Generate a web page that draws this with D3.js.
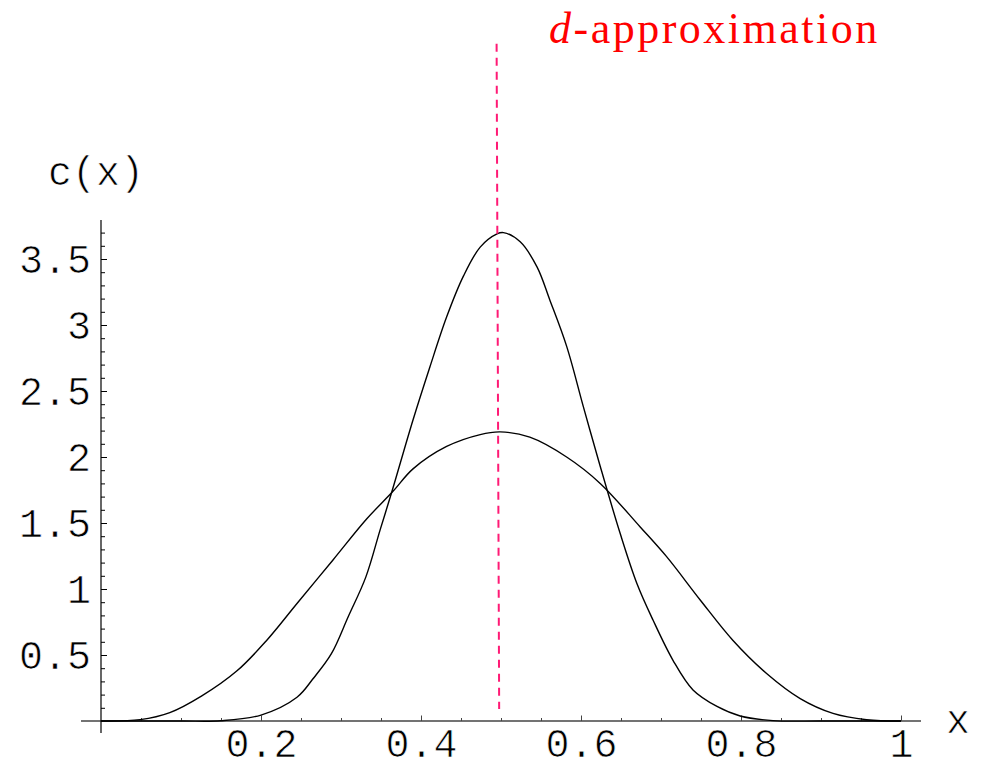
<!DOCTYPE html>
<html>
<head>
<meta charset="utf-8">
<script src="https://cdn.jsdelivr.net/npm/d3@7"></script>
<style>
  html, body { margin: 0; padding: 0; background: #fff; }
  svg { display: block; }
  .mono { font-family: "Courier New", "Liberation Mono", monospace; stroke: #fff; stroke-width: 0.7px; }
</style>
</head>
<body>
<div id="chart"></div>
<script>
"use strict";

// narrow curve (tall peak)
var narrowX = [0, 0.10, 0.15, 0.20, 0.245, 0.265, 0.288, 0.309, 0.331, 0.349, 0.363, 0.39, 0.411, 0.432, 0.453, 0.474, 0.495, 0.503, 0.524, 0.545, 0.561, 0.582, 0.603, 0.624, 0.649, 0.67, 0.69, 0.715, 0.74, 0.77, 0.799, 0.84, 0.9, 1.0];
var narrowY = [0, 0, 0.002, 0.045, 0.18, 0.32, 0.51, 0.79, 1.09, 1.45, 1.725, 2.28, 2.68, 3.06, 3.37, 3.59, 3.69, 3.70, 3.63, 3.44, 3.19, 2.84, 2.38, 1.93, 1.42, 1.04, 0.765, 0.46, 0.235, 0.11, 0.038, 0.003, 0, 0];

// wide curve (low peak)
var wideX = [0, 0.049, 0.086, 0.126, 0.17, 0.207, 0.245, 0.29, 0.332, 0.365, 0.39, 0.432, 0.474, 0.499, 0.536, 0.582, 0.624, 0.674, 0.707, 0.749, 0.79, 0.832, 0.874, 0.915, 0.957, 1.0];
var wideY = [0, 0.01, 0.063, 0.19, 0.38, 0.61, 0.89, 1.22, 1.53, 1.74, 1.91, 2.08, 2.17, 2.19, 2.15, 2.00, 1.80, 1.47, 1.245, 0.917, 0.61, 0.36, 0.17, 0.058, 0.01, 0];

// the dashed marker (drawn slightly slanted, as in the original)
var markX = [0.4945, 0.4977];
var markY = [5.13, 0.09];

var xMajor = [0.2, 0.4, 0.6, 0.8, 1];
var xMinor = d3.range(1, 21).map(i => i / 20).filter(v => Math.round(v * 100) % 20 != 0);
var yMajor = [0.5, 1, 1.5, 2, 2.5, 3, 3.5];
var yMinor = d3.range(1, 38).map(i => i / 10).filter(v => Math.round(v * 10) % 5 != 0);

var xExtent = [-0.025, 1.025];
var yExtent = [-0.09, 3.795];

var width = 983, height = 768;

var x = d3.scaleLinear().domain([0, 1]).range([101, 901]);
var y = d3.scaleLinear().domain([0, 1]).range([721, 589]);

var svg = d3.select("#chart").append("svg")
  .attr("width", width)
  .attr("height", height);

// x axis
var xAxisG = svg.append("g").attr("transform", "translate(0," + y(0) + ")");
xAxisG.append("line")
  .attr("x1", x(xExtent[0])).attr("x2", x(xExtent[1]))
  .attr("stroke", "#444").attr("stroke-width", 1.4);
xAxisG.append("g")
  .call(d3.axisBottom(x).tickValues(xMinor).tickSizeInner(-3).tickSizeOuter(0).tickFormat(""))
  .call(g => g.select(".domain").remove());
xAxisG.append("g")
  .call(d3.axisBottom(x).tickValues(xMajor).tickSizeInner(-5.5).tickSizeOuter(0).tickPadding(8).tickFormat(d3.format("")))
  .call(g => g.select(".domain").remove())
  .call(g => g.selectAll("text").attr("class", "mono").attr("font-size", 40).attr("font-family", null)
    .attr("y", 36).attr("dy", null).attr("fill", "#000"));
xAxisG.selectAll(".tick line").attr("stroke", "#444");

// y axis
var yAxisG = svg.append("g").attr("transform", "translate(" + x(0) + ",0)");
yAxisG.append("line")
  .attr("y1", y(yExtent[0])).attr("y2", y(yExtent[1]))
  .attr("stroke", "#000").attr("stroke-width", 1.2);
yAxisG.append("g")
  .call(d3.axisLeft(y).tickValues(yMinor).tickSizeInner(-4).tickSizeOuter(0).tickFormat(""))
  .call(g => g.select(".domain").remove());
yAxisG.append("g")
  .call(d3.axisLeft(y).tickValues(yMajor).tickSizeInner(-6).tickSizeOuter(0).tickPadding(10).tickFormat(d3.format("")))
  .call(g => g.select(".domain").remove())
  .call(g => g.selectAll("text").attr("class", "mono").attr("font-size", 40).attr("font-family", null)
    .attr("dy", "0.34em").attr("fill", "#000"));

// axis labels
svg.append("text").attr("class", "mono")
  .attr("x", 48).attr("y", 185)
  .attr("font-size", 40)
  .text("c(x)");
svg.append("text").attr("class", "mono")
  .attr("x", 946).attr("y", 733)
  .attr("font-size", 40)
  .text("x");

// curves
var line = d3.line()
  .x(d => x(d[0]))
  .y(d => y(d[1]))
  .curve(d3.curveCatmullRom.alpha(0.5));

svg.append("path")
  .datum(d3.zip(wideX, wideY))
  .attr("fill", "none").attr("stroke", "#000").attr("stroke-width", 1.4)
  .attr("d", line);

svg.append("path")
  .datum(d3.zip(narrowX, narrowY))
  .attr("fill", "none").attr("stroke", "#000").attr("stroke-width", 1.4)
  .attr("d", line);

// dashed marker
svg.append("path")
  .datum(d3.zip(markX, markY))
  .attr("fill", "none").attr("stroke", "#ff1a75").attr("stroke-width", 2)
  .attr("stroke-dasharray", "8,6")
  .attr("d", d3.line().x(d => x(d[0])).y(d => y(d[1])));

// title
var title = svg.append("text")
  .attr("x", 549).attr("y", 43)
  .attr("font-family", "'Times New Roman', 'Liberation Serif', serif")
  .attr("font-size", 44)
  .attr("letter-spacing", 2.5)
  .attr("fill", "#ff0000");
title.append("tspan").attr("font-style", "italic").text("d");
title.append("tspan").text("-approximation");
</script>
</body>
</html>
